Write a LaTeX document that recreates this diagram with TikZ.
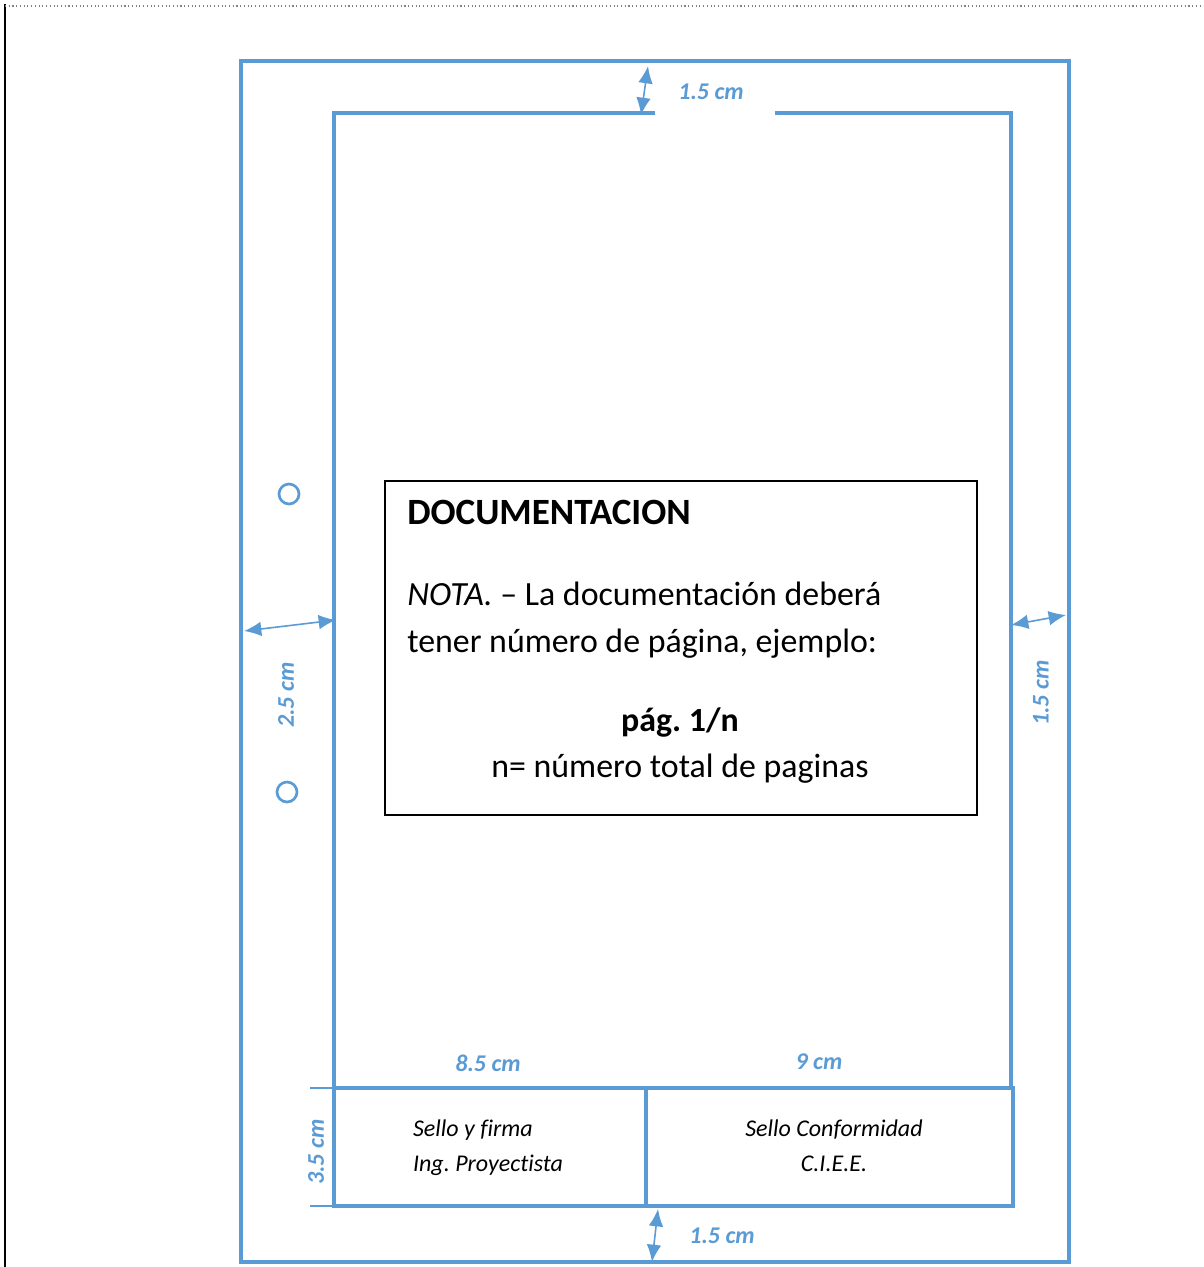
\documentclass[tikz,border=0pt]{standalone}
\usepackage{fontspec}
\setmainfont{Carlito}[Ligatures={NoCommon}]
\usetikzlibrary{arrows.meta}
\definecolor{bl}{HTML}{5B9BD5}
\frenchspacing
\begin{document}
\begin{tikzpicture}[x=0.75pt,y=-0.75pt,
  blue line/.style={draw=bl,line width=2.4pt},
  dim/.style={draw=bl,line width=1.2pt,{Latex[length=13pt,width=11pt]}-{Latex[length=13pt,width=11pt]}},
  dimlabel/.style={text=bl,font=\fontsize{18}{20}\selectfont\bfseries\itshape,inner sep=0pt},
  stamp/.style={font=\fontsize{18}{26}\selectfont\itshape,inner sep=0pt,align=left},
  body/.style={font=\fontsize{25.4}{28}\selectfont,inner sep=0pt,anchor=base west}]
\useasboundingbox (0,0) rectangle (1203,1267);
% page frame
\draw[black,line width=2.2pt] (5,4) -- (5,1267);
\draw[gray,dotted,line width=0.8pt] (5,6) -- (1203,6);
% outer sheet
\node[blue line,minimum width=828*0.75pt,minimum height=1201*0.75pt,inner sep=0pt] (outer) at (655,661.5) {};
% inner margin
\draw[blue line] (655,113) -- (334,113) -- (334,1088);
\draw[blue line] (775,113) -- (1011,113) -- (1011,1088);
% stamp boxes
\node[blue line,minimum width=312*0.75pt,minimum height=118*0.75pt,inner sep=0pt] (sA) at (490,1147) {};
\node[blue line,minimum width=367*0.75pt,minimum height=118*0.75pt,inner sep=0pt] (sB) at (829.5,1147) {};
\node[stamp] (tA) at (488,1148) {Sello y firma\\Ing. Proyectista};
\node[stamp,align=center] (tB) at (834,1146) {Sello Conformidad\\C.I.E.E.};
% ticks for 3.5 cm
\draw[bl,line width=1.2pt] (310,1088) -- (334,1088);
\draw[bl,line width=1.2pt] (310,1206) -- (334,1206);
% holes
\node[circle,draw=bl,line width=2pt,minimum size=15pt,inner sep=0pt] (h1) at (289,494) {};
\node[circle,draw=bl,line width=2pt,minimum size=15pt,inner sep=0pt] (h2) at (287,792) {};
% dimension arrows
\coordinate (t1) at (648,66); \coordinate (t2) at (641,115);
\draw[dim] (t1) -- (t2);
\coordinate (l1) at (244,631); \coordinate (l2) at (336,620);
\draw[dim] (l1) -- (l2);
\coordinate (r1) at (1011,625); \coordinate (r2) at (1066,615);
\draw[dim] (r1) -- (r2);
\coordinate (b1) at (658,1209); \coordinate (b2) at (652,1262);
\draw[dim] (b1) -- (b2);
% dimension labels
\node[dimlabel] (d1) at (711,92) {1.5 cm};
\node[dimlabel,rotate=90] (d2) at (286,695) {2.5 cm};
\node[dimlabel,rotate=90] (d3) at (1041,693) {1.5 cm};
\node[dimlabel] (d4) at (488,1063) {8.5 cm};
\node[dimlabel] (d5) at (819,1062) {9 cm};
\node[dimlabel,rotate=90] (d6) at (316,1152) {3.5 cm};
\node[dimlabel] (d7) at (722,1236) {1.5 cm};
% documentation box
\node[draw=black,line width=1.1pt,minimum width=592*0.75pt,minimum height=334*0.75pt,inner sep=0pt] (doc) at (681,648) {};
\node[body,font=\fontsize{27.8}{30}\selectfont\bfseries] (h) at (407,524) {DOCUMENTACION};
\node[body] (n1) at (407,605) {\textit{NOTA.} – La documentación deberá};
\node[body] (n2) at (407,652) {tener número de página, ejemplo:};
\node[body,anchor=base,font=\fontsize{25.4}{28}\selectfont\bfseries] (n3) at (680,731) {pág. 1/n};
\node[body,anchor=base] (n4) at (680,777) {n= número total de paginas};
\end{tikzpicture}
\end{document}
